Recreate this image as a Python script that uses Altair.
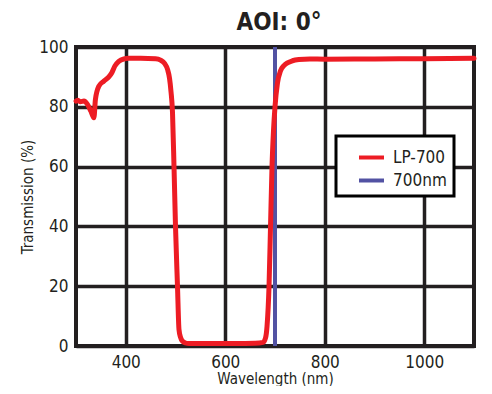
import altair as alt
import pandas as pd

# LP-700 transmission curve
wavelength = [300, 303, 309, 316, 323, 330, 336, 339, 346, 356, 366, 372, 378, 386, 396,
              406, 430, 460, 470, 478, 484, 488, 491, 494, 497, 500, 504, 507, 510, 514,
              520, 527, 560, 620, 660, 676, 681, 684, 688, 691, 694, 697, 700, 705, 711,
              718, 725, 735, 748, 770, 800, 900, 1000, 1100]
transmission = [81.9, 82.2, 81.7, 81.9, 80.8, 78.5, 76.3, 82.4, 86.9, 88.6, 90.0, 91.4, 93.6, 95.2, 96.0,
                96.2, 96.2, 96.1, 95.6, 94.5, 92.5, 89.5, 85.0, 78.0, 60.0, 40.0, 20.0, 5.5, 3.0, 1.6,
                1.0, 0.8, 0.8, 0.8, 0.9, 1.2, 2.7, 6.6, 20.0, 40.0, 60.0, 72.0, 80.0, 88.0, 92.0,
                93.8, 94.7, 95.4, 95.8, 96.0, 95.9, 96.0, 96.1, 96.2]
marker_nm = [700]
series_names = ["LP-700", "700nm"]
series_colors = ["#ed1c24", "#5252a3"]
x_ticks = [400, 600, 800, 1000]
y_ticks = [0, 20, 40, 60, 80, 100]

curve = pd.DataFrame({"wl": wavelength, "T": transmission, "series": series_names[0]})
marker = pd.DataFrame({"wl": marker_nm, "series": [series_names[1]]})

FONT = "DejaVu Sans Condensed"
INK = "#231f20"

color = alt.Color(
    "series:N",
    scale=alt.Scale(domain=series_names, range=series_colors),
    legend=alt.Legend(
        title=None, orient="none", legendX=260, legendY=89,
        strokeColor="black", fillColor="white", padding=7,
        symbolType="stroke", symbolSize=625, symbolStrokeWidth=4, symbolOffset=14,
        labelFont=FONT, labelFontSize=17, labelOffset=7, rowPadding=0,
        labelColor=INK,
    ),
)

x = alt.X("wl:Q", scale=alt.Scale(domain=[300, 1100], nice=False, zero=False),
          axis=alt.Axis(values=x_ticks, format="d", title="Wavelength (nm)", grid=True,
                        ticks=False, domain=False, labelPadding=8, titlePadding=1))
y = alt.Y("T:Q", scale=alt.Scale(domain=[0, 100], nice=False),
          axis=alt.Axis(values=y_ticks, format="d", title="Transmission (%)", grid=True,
                        ticks=False, domain=False, labelPadding=8, titlePadding=3))

rule = alt.Chart(marker).mark_rule(strokeWidth=4).encode(
    x=alt.X("wl:Q", scale=alt.Scale(domain=[300, 1100], nice=False, zero=False)),
    color=color,
)
line = alt.Chart(curve).mark_line(strokeWidth=5, interpolate="monotone",
                                  strokeCap="round", strokeJoin="round").encode(
    x=x, y=y, color=color,
)

chart = (
    alt.layer(rule, line)
    .properties(
        width=398, height=299,
        padding={"left": 12, "top": 3, "right": 5, "bottom": 0},
        title=alt.Title("AOI: 0°", font=FONT, fontSize=24, fontWeight="bold",
                        color=INK, anchor="middle", offset=3, dx=4),
    )
    .configure_view(stroke=INK, strokeWidth=4)
    .configure_axis(labelFont=FONT, labelFontSize=17, labelColor=INK,
                    titleFont=FONT, titleFontSize=15, titleFontWeight="normal", titleColor=INK,
                    gridColor=INK, gridWidth=3.5, gridOpacity=1)
    .configure_legend(strokeWidth=3)
)

chart.save("out.html", embed_options={"renderer": "svg", "actions": False})
